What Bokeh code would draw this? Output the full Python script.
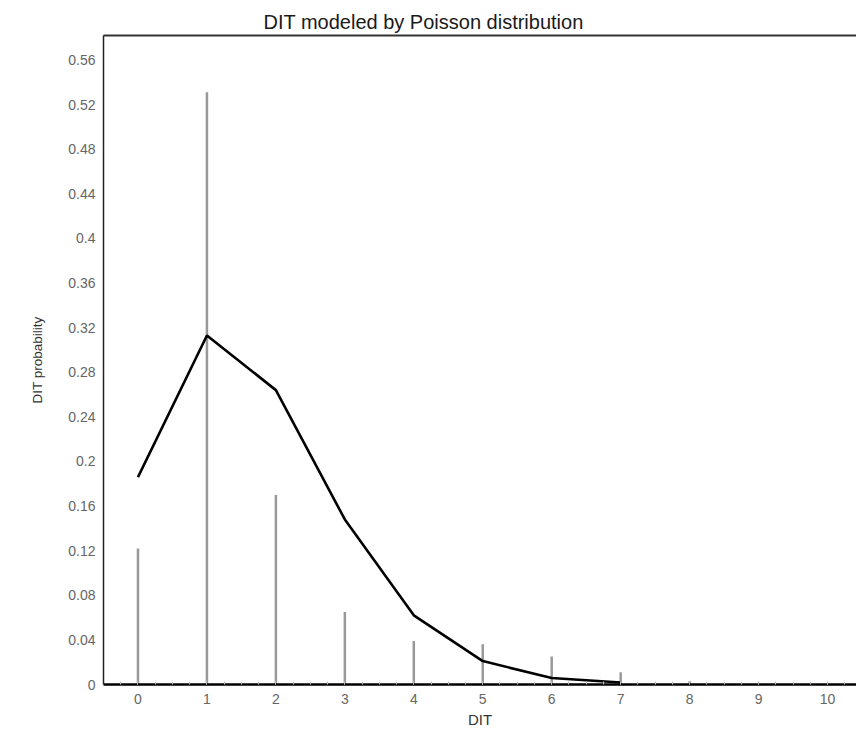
from bokeh.plotting import figure
from bokeh.models import (Range1d, LinearAxis, FixedTicker, SingleIntervalTicker)
from bokeh.embed import file_html
from bokeh.resources import INLINE

# ---- data ----
dit = [0, 1, 2, 3, 4, 5, 6, 7, 8, 9, 10]
observed = [0.122, 0.531, 0.170, 0.065, 0.039, 0.036, 0.025, 0.011, 0.003, 0.0, 0.0]
model_x = [0, 1, 2, 3, 4, 5, 6, 7]
poisson_fit = [0.186, 0.313, 0.264, 0.148, 0.062, 0.021, 0.0058, 0.0018]
y_ticks = [0, 0.04, 0.08, 0.12, 0.16, 0.2, 0.24, 0.28, 0.32, 0.36, 0.4, 0.44, 0.48, 0.52, 0.56]
y_tick_labels = ["0", "0.04", "0.08", "0.12", "0.16", "0.2", "0.24", "0.28", "0.32",
                 "0.36", "0.4", "0.44", "0.48", "0.52", "0.56"]
title_text = "DIT modeled by Poisson distribution"
x_label = "DIT"
y_label = "DIT probability"

FONT = "Liberation Sans"

p = figure(width=856, height=733, output_backend="svg", toolbar_location=None,
           x_range=Range1d(-0.5, 10.42), y_range=Range1d(0, 0.582),
           title=title_text,
           min_border_left=103, min_border_right=0, min_border_top=35, min_border_bottom=49)
p.outline_line_color = None
p.grid.visible = False
p.background_fill_color = "white"
p.border_fill_color = "white"

p.title.text_font = FONT
p.title.text_font_size = "20px"
p.title.text_font_style = "normal"
p.title.text_color = "#1a1a1a"
p.title.align = "left"
p.title.offset = 160
p.title.standoff = 6

# observed frequencies as thin gray sticks
p.segment(x0=dit, y0=[0] * len(dit), x1=dit, y1=observed,
          line_color="#999999", line_width=2.5)
# Poisson model as a black polyline
p.line(model_x, poisson_fit, line_color="black", line_width=2.6)

# x axis
xa = p.xaxis[0]
xa.ticker = SingleIntervalTicker(interval=1, num_minor_ticks=4)
xa.axis_line_color = "black"
xa.axis_line_width = 2.5
xa.major_tick_out = 0
xa.major_tick_in = 3
xa.minor_tick_out = 0
xa.minor_tick_in = 3
xa.major_tick_line_color = "#bbbbbb"
xa.minor_tick_line_color = "#bbbbbb"
xa.major_label_text_font = FONT
xa.major_label_text_font_size = "14px"
xa.major_label_text_color = "#666666"
xa.major_label_standoff = 9
xa.axis_label = x_label
xa.axis_label_text_font = FONT
xa.axis_label_text_font_size = "15px"
xa.axis_label_text_font_style = "normal"
xa.axis_label_text_color = "#333333"
xa.axis_label_standoff = 4

# y axis
ya = p.yaxis[0]
ya.ticker = FixedTicker(ticks=y_ticks)
ya.major_label_overrides = {t: l for t, l in zip(y_ticks, y_tick_labels)}
ya.axis_line_color = "#222222"
ya.axis_line_width = 1.5
ya.major_tick_out = 0
ya.major_tick_in = 0
ya.minor_tick_out = 0
ya.minor_tick_in = 0
ya.major_label_text_font = FONT
ya.major_label_text_font_size = "14px"
ya.major_label_text_color = "#666666"
ya.major_label_standoff = 8
ya.axis_label = y_label
ya.axis_label_text_font = FONT
ya.axis_label_text_font_size = "13.5px"
ya.axis_label_text_font_style = "normal"
ya.axis_label_text_color = "#333333"
ya.axis_label_standoff = 20

# top border line
top = LinearAxis(axis_line_color="#333333", axis_line_width=2,
                 major_tick_in=0, major_tick_out=0, minor_tick_in=0, minor_tick_out=0,
                 major_label_text_font_size="0px", major_label_standoff=0,
                 ticker=FixedTicker(ticks=[]))
p.add_layout(top, "above")

open("out.html", "w").write(file_html(p, INLINE))
